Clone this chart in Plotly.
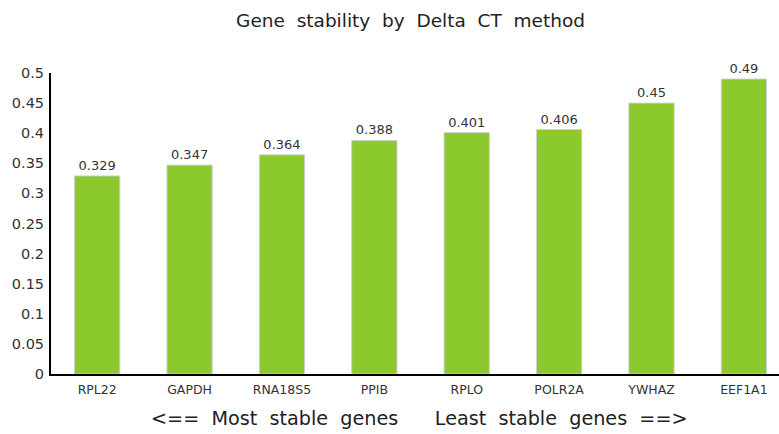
import plotly.graph_objects as go

genes = ["RPL22", "GAPDH", "RNA18S5", "PPIB", "RPLO", "POLR2A", "YWHAZ", "EEF1A1"]
stability = [0.329, 0.347, 0.364, 0.388, 0.401, 0.406, 0.45, 0.49]
y_ticks = [0, 0.05, 0.1, 0.15, 0.2, 0.25, 0.3, 0.35, 0.4, 0.45, 0.5]
y_tick_text = ["0", "0.05", "0.1", "0.15", "0.2", "0.25", "0.3", "0.35", "0.4", "0.45", "0.5"]

FONT = "DejaVu Sans"
TEXT = "#333333"
NB = "\u00a0"

title_text = (NB * 2).join(["Gene", "stability", "by", "Delta", "CT", "method"])
x_title_text = (
    f"<=={NB*2}Most{NB*2}stable{NB*2}genes"
    f"{NB*6}"
    f"Least{NB*2}stable{NB*2}genes{NB*2}==>"
)

fig = go.Figure(
    go.Bar(
        x=genes,
        y=stability,
        width=0.49,
        marker=dict(color="#8cc92c", line=dict(color="#cfcfcf", width=1)),
        text=[f"{v:g}" for v in stability],
        textposition="outside",
        textfont=dict(family=FONT, size=13, color=TEXT),
        cliponaxis=False,
    )
)

fig.update_layout(
    width=779,
    height=434,
    margin=dict(l=51, r=0, t=73, b=60),
    paper_bgcolor="white",
    plot_bgcolor="white",
    showlegend=False,
    title=dict(
        text=title_text,
        x=0.527,
        xanchor="center",
        y=0.953,
        yanchor="middle",
        font=dict(family=FONT, size=18.5, color="#222222"),
    ),
    xaxis=dict(
        range=[-0.5, 7.38],
        showline=True,
        linecolor="black",
        linewidth=2,
        ticks="",
        ticklabelstandoff=3,
        tickfont=dict(family=FONT, size=12.5, color=TEXT),
        showgrid=False,
    ),
    yaxis=dict(
        range=[0, 0.5],
        tickvals=y_ticks,
        ticktext=y_tick_text,
        showline=True,
        linecolor="black",
        linewidth=2,
        ticks="",
        ticklabelstandoff=2,
        tickfont=dict(family=FONT, size=14.5, color=TEXT),
        showgrid=False,
        zeroline=False,
    ),
    annotations=[
        dict(
            text=x_title_text,
            xref="paper",
            yref="paper",
            x=0.5055,
            y=-0.149,
            xanchor="center",
            yanchor="middle",
            showarrow=False,
            font=dict(family=FONT, size=19.2, color="#222222"),
        )
    ],
)

fig.write_html("out.html")
